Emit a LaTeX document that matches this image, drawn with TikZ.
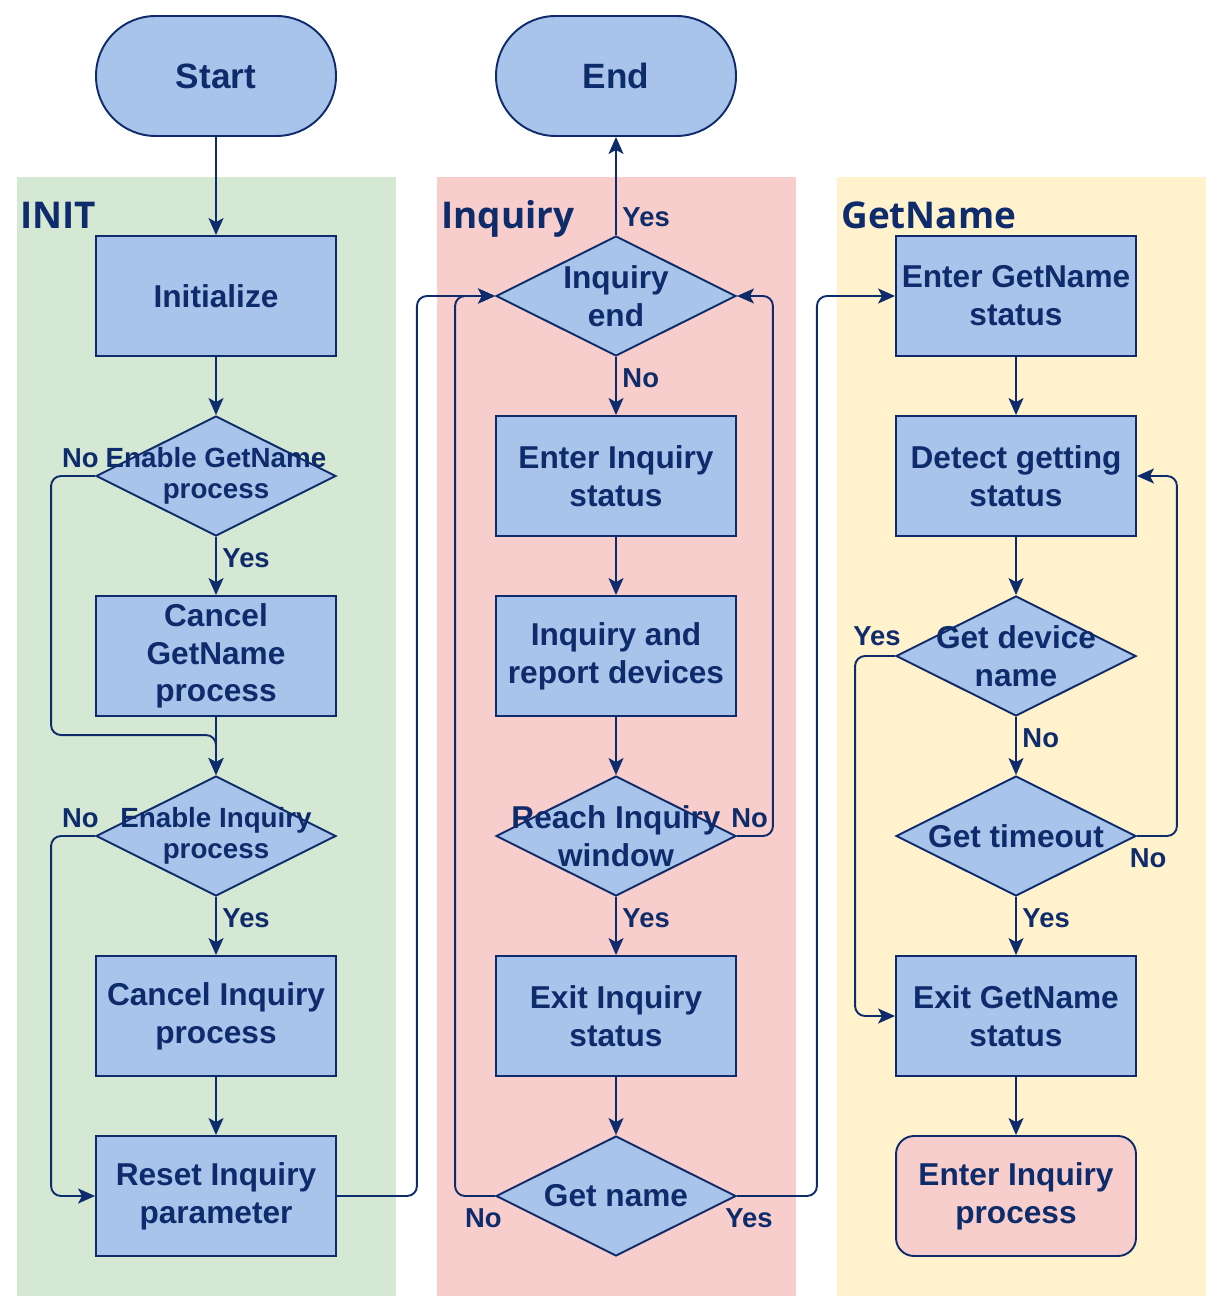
\documentclass[tikz,border=0pt]{standalone}
\usepackage{fontspec}
\setmainfont{Liberation Sans}
\newfontfamily\titlefont{Open Sans}
\usetikzlibrary{shapes.geometric,arrows.meta,calc}
\definecolor{navy}{HTML}{0E2C6B}
\definecolor{boxblue}{HTML}{A9C4EB}
\definecolor{initgreen}{HTML}{D5E8D4}
\definecolor{inqpink}{HTML}{F8CECC}
\definecolor{getyellow}{HTML}{FFF2CC}
\begin{document}
\begin{tikzpicture}[x=0.02cm,y=-0.02cm,
    box/.style={draw=navy,fill=boxblue,line width=1.1pt,minimum width=4.8cm,
      minimum height=2.4cm,inner sep=0pt,align=center,text=navy,
      font=\fontsize{18}{21.5}\selectfont\bfseries},
    term/.style={box,rounded corners=1.19cm,font=\fontsize{20}{24}\selectfont\bfseries},
    dia/.style={diamond,draw=navy,fill=boxblue,line width=1.1pt,aspect=2,
      minimum width=4.8cm,minimum height=2.4cm,inner sep=0pt},
    dtxt/.style={align=center,text=navy,font=\fontsize{18}{21.5}\selectfont\bfseries},
    dsmall/.style={align=center,text=navy,font=\fontsize{15.8}{18}\selectfont\bfseries},
    title/.style={anchor=base west,inner sep=0pt,text=navy,
      font=\titlefont\fontsize{21}{25}\selectfont\bfseries},
    lbl/.style={text=navy,inner sep=2pt,font=\fontsize{15.6}{18}\selectfont\bfseries},
    flow/.style={draw=navy,line width=1.1pt,rounded corners=0.2cm,
      -{Stealth[length=0.34cm,width=0.3cm,inset=0.08cm]}}]
  \useasboundingbox (0,0) rectangle (1225,1314);
  % lanes
  \fill[initgreen] (17,177) rectangle (396,1296);
  \fill[inqpink] (437,177) rectangle (796,1296);
  \fill[getyellow] (837,177) rectangle (1206,1296);
  \node[title] (tinit) at (20,229) {INIT};
  \node[title] (tinq) at (441,229) {Inquiry};
  \node[title] (tget) at (841,229) {GetName};
  % INIT
  \draw
    (216,76) node[term] (start){Start}
    (216,296) node[box] (init){Initialize}
    (216,476) node[dia,label={[dsmall]center:Enable GetName\\process}] (egn){}
    (216,656) node[box] (cgn){Cancel\\GetName\\process}
    (216,836) node[dia,label={[dsmall]center:Enable Inquiry\\process}] (ei){}
    (216,1016) node[box] (cin){Cancel Inquiry\\process}
    (216,1196) node[box] (rip){Reset Inquiry\\parameter};
  % Inquiry
  \draw
    (616,76) node[term] (end){End}
    (616,296) node[dia,label={[dtxt]center:Inquiry\\end}] (ie){}
    (616,476) node[box] (eis){Enter Inquiry\\status}
    (616,656) node[box] (ird){Inquiry and\\report devices}
    (616,836) node[dia,label={[dtxt]center:Reach Inquiry\\window}] (rw){}
    (616,1016) node[box] (xis){Exit Inquiry\\status}
    (616,1196) node[dia,label={[dtxt]center:Get name}] (gn){};
  % GetName
  \draw
    (1016,296) node[box] (egs){Enter GetName\\status}
    (1016,476) node[box] (dgs){Detect getting\\status}
    (1016,656) node[dia,label={[dtxt]center:Get device\\name}] (gdn){}
    (1016,836) node[dia,label={[dtxt]center:Get timeout}] (gt){}
    (1016,1016) node[box] (xgs){Exit GetName\\status}
    (1016,1196) node[box,fill=inqpink,rounded corners=0.36cm] (eip){Enter Inquiry\\process};
  \begin{scope}[flow]
    \draw (start) to (init);
    \draw (init) to (egn);
    \draw (egn) to node[lbl,right,pos=0.37,xshift=0.04cm]{Yes} (cgn);
    \draw (egn.west) node[lbl,anchor=south east,xshift=0.16cm,yshift=0.08cm]{No}
      -- ++(-44,0) |- ($(ei.north)+(0,-40)$) -- (ei.north);
    \draw (cgn) to (ei);
    \draw (ei) to node[lbl,right,pos=0.37,xshift=0.04cm]{Yes} (cin);
    \draw (ei.west) node[lbl,anchor=south east,xshift=0.16cm,yshift=0.08cm]{No}
      -- ++(-44,0) |- (rip.west);
    \draw (cin) to (rip);
    \draw (rip.east) -- ++(80,0) |- (ie.west);
    \draw (ie) to node[lbl,right,pos=0.18,xshift=0.04cm]{Yes} (end);
    \draw (ie) to node[lbl,right,pos=0.37,xshift=0.04cm]{No} (eis);
    \draw (eis) to (ird);
    \draw (ird) to (rw);
    \draw (rw.east) node[lbl,anchor=south west,xshift=-0.2cm,yshift=0.08cm]{No}
      -- ++(36,0) |- (ie.east);
    \draw (rw) to node[lbl,right,pos=0.37,xshift=0.04cm]{Yes} (xis);
    \draw (xis) to (gn);
    \draw (gn.west) node[lbl,anchor=north east,xshift=0.22cm,yshift=-0.16cm]{No}
      -- ++(-40,0) |- (ie.west);
    \draw (gn.east) node[lbl,anchor=north west,xshift=-0.32cm,yshift=-0.16cm]{Yes}
      -- ++(80,0) |- (egs.west);
    \draw (egs) to (dgs);
    \draw (dgs) to (gdn);
    \draw (gdn) to node[lbl,right,pos=0.37,xshift=0.04cm]{No} (gt);
    \draw (gdn.west) node[lbl,anchor=south east,xshift=0.2cm,yshift=0.12cm]{Yes}
      -- ++(-40,0) |- (xgs.west);
    \draw (gt) to node[lbl,right,pos=0.37,xshift=0.04cm]{Yes} (xgs);
    \draw (gt.east) node[lbl,anchor=north west,xshift=-0.23cm,yshift=-0.16cm]{No}
      -- ++(40,0) |- (dgs.east);
    \draw (xgs) to (eip);
  \end{scope}
\end{tikzpicture}
\end{document}
